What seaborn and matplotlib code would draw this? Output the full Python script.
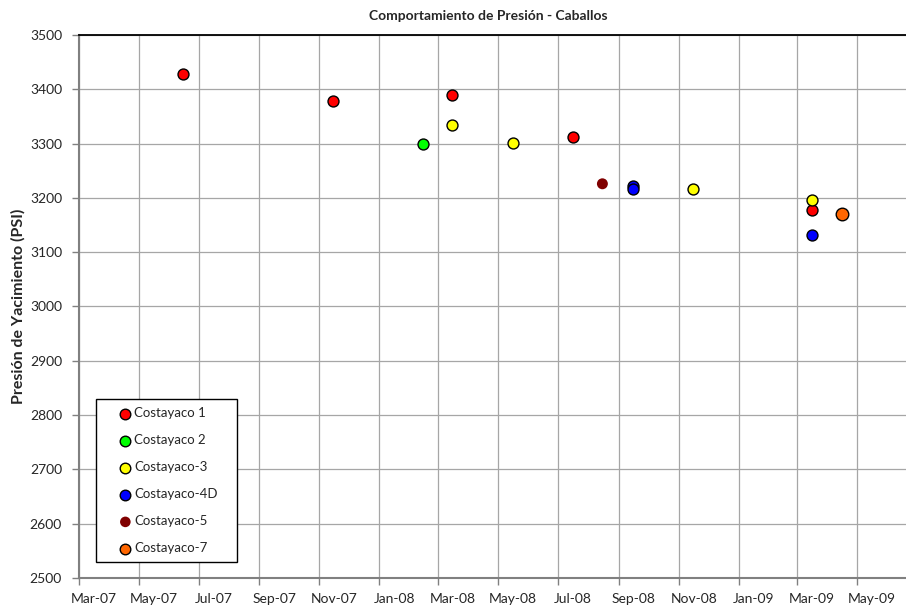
import numpy as np
import pandas as pd
import seaborn as sns
import matplotlib.dates as mdates
from matplotlib import pyplot as plt

sns.set_style("white")
plt.rcParams['font.family'] = ['Lato', 'DejaVu Sans']

# Datos de presion por pozo
c1_dates = ["2007-06-15", "2007-11-15", "2008-03-15", "2008-07-16", "2009-03-16"]
c1_psi = [3428, 3378, 3390, 3312, 3178]
c2_dates = ["2008-02-14"]
c2_psi = [3300]
c3_dates = ["2008-03-15", "2008-05-16", "2008-11-15", "2009-03-16"]
c3_psi = [3334, 3302, 3216, 3196]
c4_dates = ["2008-09-15", "2008-09-15", "2009-03-16"]
c4_psi = [3221, 3216, 3132]
c5_dates = ["2008-08-15"]
c5_psi = [3226]
c7_dates = ["2009-04-16"]
c7_psi = [3170]

series_names = ["Costayaco 1", "Costayaco 2", "Costayaco-3", "Costayaco-4D", "Costayaco-5", "Costayaco-7"]
series_dates = [c1_dates, c2_dates, c3_dates, c4_dates, c5_dates, c7_dates]
series_psi = [c1_psi, c2_psi, c3_psi, c4_psi, c5_psi, c7_psi]
series_colors = ["#FF0000", "#00FF00", "#FFFF00", "#0000FF", "#800000", "#FF6600"]
series_sizes = [62, 62, 62, 62, 62, 82]
series_edges = ["black", "black", "black", "black", "none", "black"]

fig = plt.figure(figsize=(9.06, 6.09), dpi=100)
ax = fig.add_axes([78.7 / 906, 31 / 609, (906 - 78.7) / 906, 543 / 609])

for name, d, p, col, s, ec in zip(series_names, series_dates, series_psi,
                                  series_colors, series_sizes, series_edges):
    sns.scatterplot(x=pd.to_datetime(d), y=p, color=col, s=s, edgecolor=ec,
                    linewidth=1.0, label=name, ax=ax, zorder=3)

# Ejes
ax.set_ylim(2500, 3500)
ax.set_yticks(np.arange(2500, 3501, 100))
ax.set_xlim(mdates.date2num(pd.Timestamp("2007-03-01")),
            mdates.date2num(pd.Timestamp("2009-06-20")))

major_ticks = pd.date_range("2007-03-01", "2009-05-01", freq="2MS")
label_pos = major_ticks + pd.Timedelta(days=15)
tick_labels = [t.strftime("%b-%y") for t in major_ticks]
ax.set_xticks(mdates.date2num(major_ticks))
ax.set_xticklabels([])
ax.set_xticks(mdates.date2num(label_pos), minor=True)
ax.set_xticklabels(tick_labels, minor=True)

ax.tick_params(axis='x', which='major', length=5, width=1, color="#808080", direction='out', bottom=True)
ax.tick_params(axis='x', which='minor', length=0, pad=11, labelsize=10)
ax.tick_params(axis='y', which='major', length=5, width=1, color="#808080", direction='out', left=True,
               pad=7, labelsize=10)

ax.grid(True, which='major', color="#A6A6A6", linewidth=0.9)
ax.set_axisbelow(True)

for side in ["left", "bottom"]:
    ax.spines[side].set_color("#808080")
    ax.spines[side].set_linewidth(1.5)
ax.spines["top"].set_color("black")
ax.spines["top"].set_linewidth(1.3)
ax.spines["right"].set_visible(False)

ax.set_xlabel("")
ax.set_ylabel("")

fig.text(488 / 906, 1 - 16 / 609, "Comportamiento de Presión - Caballos",
         ha="center", va="center", fontsize=10, fontweight="bold")
fig.text(18 / 906, 1 - 306 / 609, "Presión de Yacimiento (PSI)", rotation=90,
         ha="center", va="center", fontsize=11.5, fontweight="bold")

leg = ax.legend(loc="lower left", bbox_to_anchor=(0.0213, 0.0289, 0.1704, 0.299),
                mode="expand", borderaxespad=0, frameon=True, fancybox=False,
                edgecolor="black", framealpha=1, fontsize=9.5, labelspacing=1.14,
                borderpad=0.6, handlelength=3.2, handletextpad=-0.95)
leg.get_frame().set_linewidth(1.0)
for h in leg.legend_handles:
    h.set_sizes([58])

fig.savefig("out.png", dpi=100)
